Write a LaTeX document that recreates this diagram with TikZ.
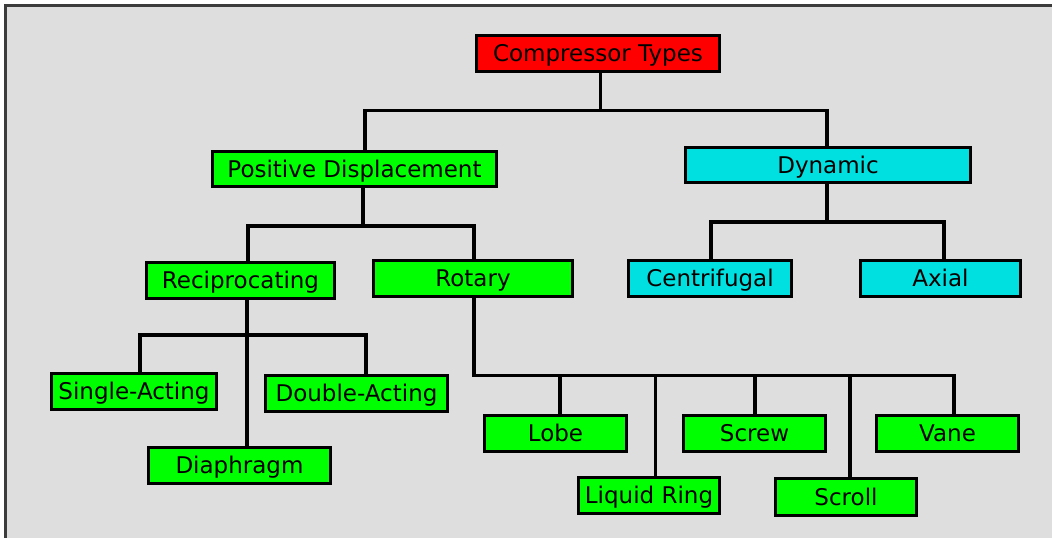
\documentclass[tikz,border=0pt]{standalone}
\usepackage{fontspec}
\setmainfont{DejaVu Sans}
\definecolor{bg}{RGB}{222,222,222}
\definecolor{frame}{RGB}{60,60,60}
\definecolor{redbox}{RGB}{255,0,0}
\definecolor{greenbox}{RGB}{0,255,0}
\definecolor{cyanbox}{RGB}{0,224,224}
\begin{document}
\begin{tikzpicture}[x=1pt,y=-1pt,
  box/.style={draw=black, line width=3.2pt, inner sep=0pt, text height=16.5pt, text depth=0pt,
    font=\fontsize{23}{27}\selectfont},
  redb/.style={box, fill=redbox},
  greenb/.style={box, fill=greenbox},
  cyanb/.style={box, fill=cyanbox},
  conn/.style={draw=black, line width=3.2pt, line join=miter}
]
\useasboundingbox (0,0) rectangle (1052,538);
\fill[white] (0,0) rectangle (1052,538);
\fill[bg] (6,6) rectangle (1052,538);
\draw[frame, line width=2.5pt] (5.5,538) -- (5.5,5.5) -- (1052,5.5);

% nodes
\node[redb, minimum width=243pt, minimum height=36pt] (comp) at (598,53.5) {Compressor Types};
\node[greenb, minimum width=284pt, minimum height=35pt] (posd) at (354.5,169) {Positive Displacement};
\node[cyanb, minimum width=285pt, minimum height=35pt] (dyn) at (828,165) {Dynamic};
\node[greenb, minimum width=188pt, minimum height=36pt] (recip) at (240.5,280.5) {Reciprocating};
\node[greenb, minimum width=199pt, minimum height=36pt] (rot) at (473,278.5) {Rotary};
\node[cyanb, minimum width=163pt, minimum height=36pt] (cent) at (710,278.5) {Centrifugal};
\node[cyanb, minimum width=160pt, minimum height=36pt] (axial) at (940.5,278.5) {Axial};
\node[greenb, minimum width=165pt, minimum height=36pt] (single) at (134,391.5) {Single-Acting};
\node[greenb, minimum width=182pt, minimum height=36pt] (double) at (356.5,393.5) {Double-Acting};
\node[greenb, minimum width=182pt, minimum height=36pt] (diaph) at (239.5,465.5) {Diaphragm};
\node[greenb, minimum width=142pt, minimum height=36pt] (lobe) at (555.5,433.5) {Lobe};
\node[greenb, minimum width=141pt, minimum height=36pt] (liquid) at (649,495.5) {Liquid Ring};
\node[greenb, minimum width=142pt, minimum height=36pt] (screw) at (754.5,433.5) {Screw};
\node[greenb, minimum width=141pt, minimum height=37pt] (scroll) at (846,497) {Scroll};
\node[greenb, minimum width=142pt, minimum height=36pt] (vane) at (947.5,433.5) {Vane};

% bus levels
\coordinate (b1) at (0,110.7);
\coordinate (b2) at (0,226);
\coordinate (b3) at (0,222);
\coordinate (b4) at (0,335);
\coordinate (b5) at (0,375.5);

% stem points
\coordinate (compS) at ([xshift=2.7pt]comp.south);
\coordinate (posdN) at ([xshift=10.5pt]posd.north);
\coordinate (posdS) at ([xshift=8.5pt]posd.south);
\coordinate (dynN) at ([xshift=-1pt]dyn.north);
\coordinate (dynS) at ([xshift=-1pt]dyn.south);
\coordinate (recipN) at ([xshift=7.5pt]recip.north);
\coordinate (recipS) at ([xshift=6.5pt]recip.south);
\coordinate (rotN) at ([xshift=1pt]rot.north);
\coordinate (rotS) at ([xshift=1pt]rot.south);
\coordinate (centN) at ([xshift=1pt]cent.north);
\coordinate (axialN) at ([xshift=3.5pt]axial.north);
\coordinate (singleN) at ([xshift=6pt]single.north);
\coordinate (doubleN) at ([xshift=9.5pt]double.north);
\coordinate (lobeN) at ([xshift=4.5pt]lobe.north);
\coordinate (liquidN) at ([xshift=6.6pt]liquid.north);
\coordinate (screwN) at ([xshift=0.5pt]screw.north);
\coordinate (scrollN) at ([xshift=4pt]scroll.north);
\coordinate (vaneN) at ([xshift=6.5pt]vane.north);

% connectors
\draw[conn] (compS) -- (compS |- b1);
\draw[conn] (posdN) -- (posdN |- b1) -| (dynN);

\draw[conn] (posdS) -- (posdS |- b2);
\draw[conn] (recipN) -- (recipN |- b2) -| (rotN);

\draw[conn] (dynS) -- (dynS |- b3);
\draw[conn] (centN) -- (centN |- b3) -| (axialN);

\draw[conn] (recipS) -- (recipS |- diaph.north);
\draw[conn] (singleN) -- (singleN |- b4) -| (doubleN);

\draw[conn] (rotS) -- (rotS |- b5) -| (vaneN);
\draw[conn] (lobeN) -- (lobeN |- b5);
\draw[conn] (liquidN) -- (liquidN |- b5);
\draw[conn] (screwN) -- (screwN |- b5);
\draw[conn] (scrollN) -- (scrollN |- b5);
\end{tikzpicture}
\end{document}
